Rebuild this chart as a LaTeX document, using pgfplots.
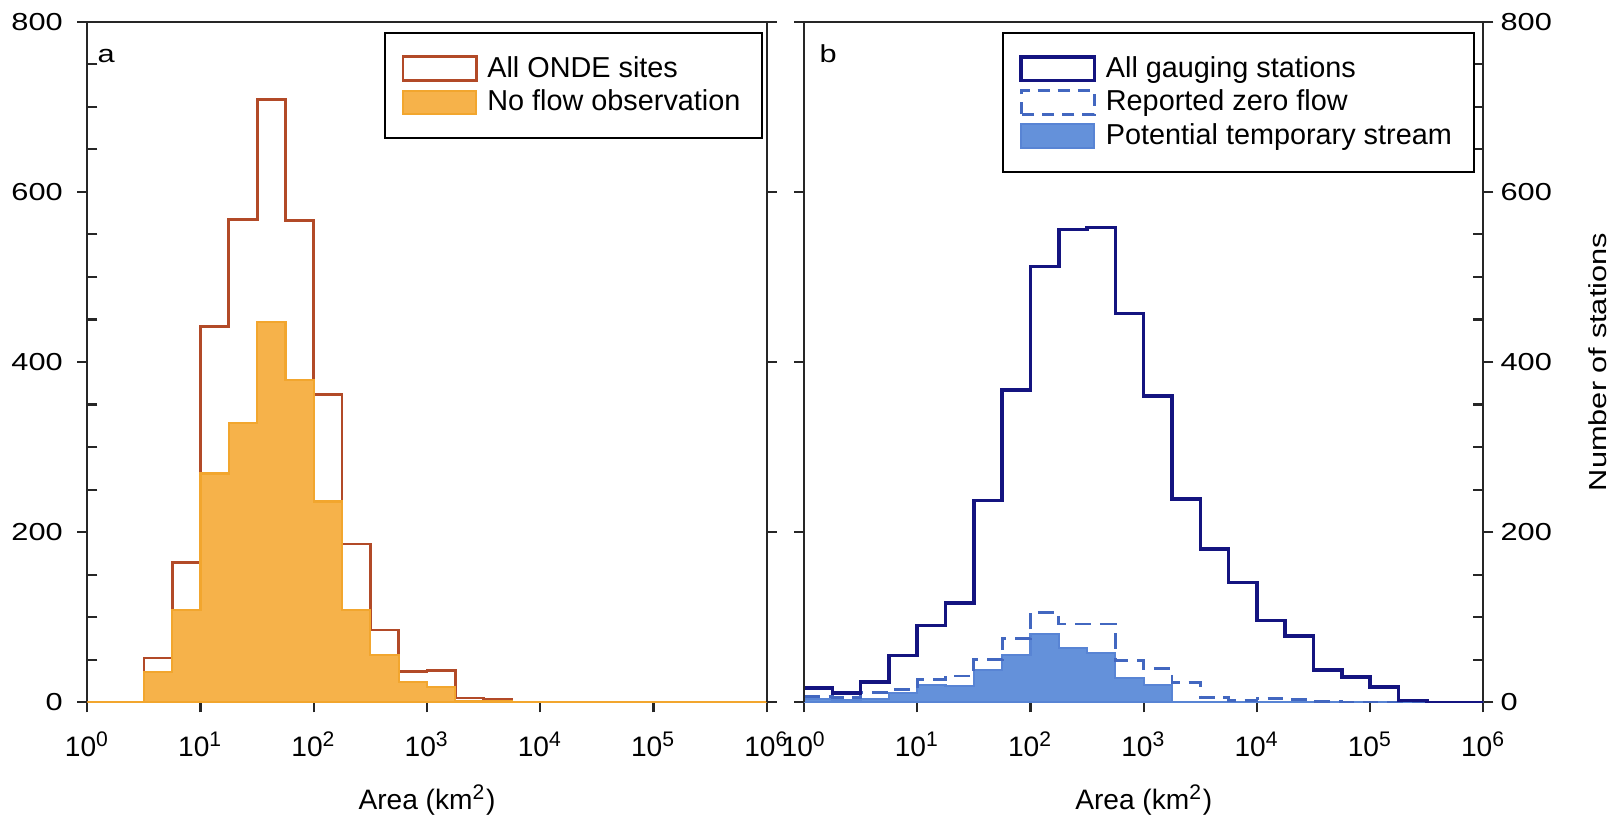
\documentclass[border=0pt]{standalone}
\usepackage{fontspec}
\setmainfont{Liberation Sans}
\newfontfamily\wide{Liberation Sans}[FakeStretch=1.25]
\usepackage{pgfplots}
\pgfplotsset{compat=1.18}

\definecolor{onde}{RGB}{178,74,40}
\definecolor{ofill}{RGB}{246,178,74}
\definecolor{oedge}{RGB}{242,166,46}
\definecolor{navy}{RGB}{20,20,128}
\definecolor{dashblue}{RGB}{66,103,192}
\definecolor{bfill}{RGB}{100,145,218}
\definecolor{bedge}{RGB}{88,132,212}

\newcommand{\wfont}{\wide\fontsize{7}{8.4}\selectfont}
\newcommand{\nfont}{\fontsize{8}{9.6}\selectfont}
\newcommand{\lfont}{\fontsize{8.2}{9.8}\selectfont}

\begin{document}
\begin{tikzpicture}
\useasboundingbox (0,0) rectangle (16.19,8.25);

% panel a
\begin{axis}[
  scale only axis, width=6.794cm, height=6.806cm,
  at={(0.873cm,1.227cm)}, anchor=south west,
  xmode=log, xmin=1, xmax=1000000, ymin=0, ymax=800,
  xtick={1,10,100,1000,10000,100000,1000000},
  xticklabels={10\textsuperscript{0},10\textsuperscript{1},10\textsuperscript{2},10\textsuperscript{3},10\textsuperscript{4},10\textsuperscript{5},10\textsuperscript{6}},
  xminorticks=false,
  ytick={0,200,400,600,800}, minor y tick num=3,
  axis line style={line width=0.6pt, black!85},
  tick style={line width=0.6pt, black!85},
  tick align=outside, major tick length=0.1cm, minor tick length=-0.1cm,
  xtick pos=bottom, ytick pos=left,
  /pgf/number format/assume math mode=true,
  yticklabel style={font=\wfont, xshift=-0.6pt},
  xticklabel style={font=\nfont, yshift=-2pt},
  xlabel={Area (km\textsuperscript{2})},
  xlabel style={font=\nfont, at={(rel axis cs:0.5,0)}, anchor=center, yshift=-0.977cm},
  legend cell align=left,
  legend image code/.code={\draw[#1] (0pt,-3.35pt) rectangle (20.8pt,3.35pt); \path (22.2pt,0pt);},
  legend style={at={(rel axis cs:0.995,0.9853)}, anchor=north east,
    draw=black, line width=0.6pt, fill=white,
    inner xsep=4.8pt, inner ysep=6.2pt, row sep=1.6pt, font=\lfont,
    nodes={inner xsep=1.4pt, inner ysep=0pt, text height=6.4pt, text depth=1.6pt, anchor=west}},
]
\addlegendimage{draw=onde, line width=0.8pt, fill=white}
\addlegendentry{All ONDE sites}
\addlegendimage{draw=oedge, line width=0.6pt, fill=ofill}
\addlegendentry{No flow observation}
\addplot[forget plot, const plot mark left, draw=onde, line width=0.8pt] coordinates {
  (1,0) (3.1623,52) (5.6234,164) (10,442) (17.783,568) (31.623,709) (56.234,566)
  (100,362) (177.83,186) (316.23,85) (562.34,36) (1000,37) (1778.3,5) (3162.3,3)
  (5623.4,0) (1000000,0)};
\addplot[forget plot, const plot mark left, fill=ofill, draw=oedge, line width=0.6pt] coordinates {
  (1,0) (3.1623,36) (5.6234,109) (10,269) (17.783,328) (31.623,447) (56.234,379)
  (100,236) (177.83,108) (316.23,56) (562.34,24) (1000,18) (1778.3,2) (3162.3,1)
  (5623.4,0) (1000000,0)} \closedcycle;
\node[anchor=base west, font=\wfont, inner sep=0pt] at (rel axis cs:0.0143,0.9408) {a};
\end{axis}
\begin{axis}[
  scale only axis, width=6.794cm, height=6.806cm,
  at={(0.873cm,1.227cm)}, anchor=south west,
  xmin=0, xmax=1, ymin=0, ymax=800,
  hide x axis, axis y line*=right,
  ytick={0,200,400,600,800}, yticklabels={},
  axis line style={line width=0.6pt, black!85},
  tick style={line width=0.6pt, black!85},
  tick align=outside, major tick length=0.1cm,
]
\end{axis}

% panel b
\begin{axis}[
  scale only axis, width=6.794cm, height=6.806cm,
  at={(8.04cm,1.227cm)}, anchor=south west,
  xmode=log, xmin=1, xmax=1000000, ymin=0, ymax=800,
  xtick={1,10,100,1000,10000,100000,1000000},
  xticklabels={10\textsuperscript{0},10\textsuperscript{1},10\textsuperscript{2},10\textsuperscript{3},10\textsuperscript{4},10\textsuperscript{5},10\textsuperscript{6}},
  xminorticks=false,
  ytick={0,200,400,600,800}, minor y tick num=3,
  axis line style={line width=0.6pt, black!85},
  tick style={line width=0.6pt, black!85},
  tick align=outside, major tick length=0.1cm, minor tick length=-0.1cm,
  xtick pos=bottom, ytick pos=right, yticklabel pos=right,
  /pgf/number format/assume math mode=true,
  yticklabel style={font=\wfont, xshift=-1.5pt},
  xticklabel style={font=\nfont, yshift=-2pt},
  xlabel={Area (km\textsuperscript{2})},
  xlabel style={font=\nfont, at={(rel axis cs:0.5,0)}, anchor=center, yshift=-0.977cm},
  ylabel={Number of stations},
  ylabel style={font=\wfont, at={(rel axis cs:1,0.5)}, anchor=center, yshift=-1.138cm},
  legend cell align=left,
  legend image code/.code={\draw[#1] (0pt,-3.35pt) rectangle (20.8pt,3.35pt); \path (22.2pt,0pt);},
  legend style={at={(rel axis cs:0.9872,0.9853)}, anchor=north east,
    draw=black, line width=0.6pt, fill=white,
    inner xsep=4.8pt, inner ysep=6.2pt, row sep=1.6pt, font=\lfont,
    nodes={inner xsep=1.4pt, inner ysep=0pt, text height=6.4pt, text depth=1.6pt, anchor=west}},
]
\addlegendimage{draw=navy, line width=1pt, fill=white}
\addlegendentry{All gauging stations}
\addlegendimage{draw=dashblue, line width=0.8pt, dash pattern=on 3.5pt off 2.2pt, fill=white}
\addlegendentry{Reported zero flow}
\addlegendimage{draw=bedge, line width=0.6pt, fill=bfill}
\addlegendentry{Potential temporary stream}
\addplot[forget plot, const plot mark left, fill=bfill, draw=bedge, line width=0.6pt] coordinates {
  (1,4) (1.7783,3) (3.1623,4) (5.6234,11) (10,20) (17.783,19) (31.623,38) (56.234,56)
  (100,80) (177.83,64) (316.23,58) (562.34,29) (1000,20) (1778.3,0) (1000000,0)} \closedcycle;
\addplot[forget plot, const plot mark left, draw=dashblue, line width=0.8pt, dash pattern=on 4.5pt off 2.5pt] coordinates {
  (1,7) (1.7783,6) (3.1623,12) (5.6234,15) (10,27) (17.783,31) (31.623,50) (56.234,75)
  (100,106) (177.83,92) (316.23,92) (562.34,49) (1000,40) (1778.3,23) (3162.3,6)
  (5623.4,2) (10000,4) (17783,3) (31623,1) (56234,0) (1000000,0)};
\addplot[forget plot, const plot mark left, draw=navy, line width=1pt] coordinates {
  (1,17) (1.7783,11) (3.1623,24) (5.6234,55) (10,90) (17.783,117) (31.623,237) (56.234,367)
  (100,512) (177.83,556) (316.23,558) (562.34,457) (1000,360) (1778.3,239) (3162.3,180)
  (5623.4,141) (10000,96) (17783,78) (31623,38) (56234,30) (100000,18) (177830,2)
  (316230,0) (1000000,0)};
\node[anchor=base west, font=\wfont, inner sep=0pt] at (rel axis cs:0.022,0.9408) {b};
\end{axis}
\begin{axis}[
  scale only axis, width=6.794cm, height=6.806cm,
  at={(8.04cm,1.227cm)}, anchor=south west,
  xmin=0, xmax=1, ymin=0, ymax=800,
  hide x axis, axis y line*=left,
  ytick={0,200,400,600,800}, yticklabels={},
  axis line style={line width=0.6pt, black!85},
  tick style={line width=0.6pt, black!85},
  tick align=outside, major tick length=0.1cm,
]
\end{axis}
\end{tikzpicture}
\end{document}
